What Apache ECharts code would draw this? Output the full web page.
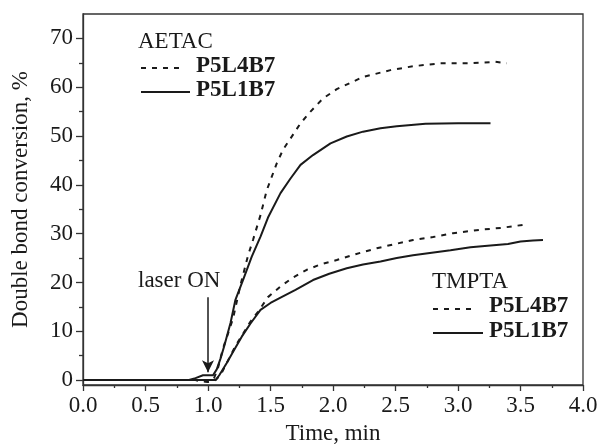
<!DOCTYPE html>
<html><head><meta charset="utf-8">
<script src="https://cdn.jsdelivr.net/npm/echarts@6/dist/echarts.min.js"></script>
<style>html,body{margin:0;padding:0;background:#fff}#c{width:600px;height:444px}</style>
</head><body><div id="c"></div>
<script>
// ---- data ----
const xTicks = [0, 0.5, 1, 1.5, 2, 2.5, 3, 3.5, 4];
const yTicks = [0, 10, 20, 30, 40, 50, 60, 70];
const yMinorTicks = [5, 15, 25, 35, 45, 55, 65];

const aetacL1B7_t = [0, 0.5, 0.84, 0.9, 0.96, 1.04, 1.07, 1.10, 1.13, 1.18, 1.22, 1.28, 1.35, 1.42, 1.48, 1.58, 1.66, 1.74, 1.84, 1.98, 2.11, 2.24, 2.38, 2.51, 2.74, 3.0, 3.26];
const aetacL1B7_v = [0, 0, 0, 0.4, 1.0, 1.0, 2.2, 4.4, 7.0, 11.7, 16.5, 20.5, 25.3, 29.4, 33.3, 38.3, 41.3, 44.1, 46.1, 48.5, 49.9, 50.9, 51.6, 52.0, 52.5, 52.6, 52.6];

const aetacL4B7_t = [0, 0.5, 0.9, 1.0, 1.05, 1.08, 1.12, 1.16, 1.2, 1.26, 1.32, 1.36, 1.42, 1.47, 1.55, 1.60, 1.66, 1.74, 1.82, 1.92, 2.03, 2.14, 2.24, 2.46, 2.64, 2.86, 3.1, 3.3, 3.39];
const aetacL4B7_v = [0, 0, 0, -0.4, 0.5, 2.5, 6.5, 9.5, 12.6, 19.5, 25.5, 28.7, 33.8, 38.9, 44.4, 47.2, 49.5, 52.6, 55.0, 57.7, 59.6, 60.9, 62.1, 63.5, 64.3, 64.9, 64.9, 65.2, 64.9];

const tmptaL1B7_t = [0, 0.5, 0.9, 1.0, 1.06, 1.09, 1.15, 1.21, 1.27, 1.34, 1.42, 1.50, 1.58, 1.70, 1.84, 1.97, 2.11, 2.24, 2.38, 2.51, 2.64, 2.79, 2.94, 3.1, 3.26, 3.4, 3.5, 3.6, 3.68];
const tmptaL1B7_v = [0, 0, 0, 0, 0, 1.0, 3.5, 6.2, 8.9, 11.6, 14.4, 15.8, 16.9, 18.5, 20.5, 21.8, 22.9, 23.7, 24.3, 25.0, 25.6, 26.1, 26.6, 27.2, 27.6, 27.9, 28.4, 28.6, 28.7];

const tmptaL4B7_t = [0, 0.5, 0.9, 1.0, 1.06, 1.1, 1.16, 1.22, 1.28, 1.34, 1.40, 1.48, 1.58, 1.68, 1.79, 1.9, 2.03, 2.18, 2.35, 2.5, 2.64, 2.8, 2.96, 3.18, 3.35, 3.52];
const tmptaL4B7_v = [0, 0, 0, -0.3, 0, 1.0, 4.0, 7.0, 9.5, 12.0, 14.0, 17.0, 19.2, 21.0, 22.6, 23.7, 24.6, 25.8, 27.0, 27.9, 28.7, 29.3, 30.1, 30.8, 31.2, 31.8];

const arrowFrom = [1.0, 17];
const arrowTo = [1.0, 1.6];

// ---- chart ----
const zip = (t, v) => t.map((x, i) => [x, v[i]]);
const FONT = 'Liberation Serif';
const INK = '#1a1a1a';
const FS = 23;
const chart = echarts.init(document.getElementById('c'), null, {renderer: 'canvas'});

function lineSeries(name, t, v, dashed, extra) {
  return Object.assign({
    name, type: 'line', data: zip(t, v), showSymbol: false, symbol: 'none',
    lineStyle: {color: INK, width: 2, type: dashed ? [5, 6] : 'solid'},
    animation: false, z: 3
  }, extra || {});
}

const option = {
  animation: false,
  grid: {left: 83, right: 17, top: 14, bottom: 59, outerBoundsMode: 'none', containLabel: false,
         show: true, borderColor: '#333', borderWidth: 1.3, backgroundColor: 'transparent'},
  xAxis: {
    type: 'value', min: 0, max: 4, interval: 0.5,
    name: 'Time, min', nameLocation: 'middle', nameGap: 37,
    nameTextStyle: {fontFamily: FONT, fontSize: FS, color: INK},
    axisLine: {show: true, onZero: false, lineStyle: {color: '#333', width: 1.3}},
    axisTick: {show: true, length: 6, lineStyle: {color: '#333', width: 1.3}},
    minorTick: {show: true, splitNumber: 2, length: 3, lineStyle: {color: '#333', width: 1.3}},
    axisLabel: {fontFamily: FONT, fontSize: FS, color: INK, margin: 9, formatter: v => v.toFixed(1)},
    splitLine: {show: false}, minorSplitLine: {show: false}
  },
  yAxis: [{
    type: 'value', min: -1, max: 75,
    name: 'Double bond conversion, %', nameLocation: 'middle', nameGap: 51, nameRotate: 90,
    nameTextStyle: {fontFamily: FONT, fontSize: FS, color: INK},
    axisLine: {show: true, onZero: false, lineStyle: {color: '#333', width: 1.3}},
    axisTick: {show: true, length: 7, customValues: yTicks, lineStyle: {color: '#333', width: 1.3}},
    axisLabel: {fontFamily: FONT, fontSize: FS, color: INK, margin: 10, customValues: yTicks},
    splitLine: {show: false}
  }, {
    type: 'value', min: -1, max: 75, position: 'left',
    axisLine: {show: false},
    axisTick: {show: true, length: 4, customValues: yMinorTicks, lineStyle: {color: '#333', width: 1.3}},
    axisLabel: {show: false},
    splitLine: {show: false}
  }],
  series: [
    lineSeries('AETAC P5L4B7', aetacL4B7_t, aetacL4B7_v, true),
    lineSeries('AETAC P5L1B7', aetacL1B7_t, aetacL1B7_v, false, {
      markLine: {
        silent: true, symbol: ['none', 'arrow'], symbolSize: [9, 12],
        label: {show: false},
        lineStyle: {color: INK, width: 1.5, type: 'solid'},
        data: [[{coord: arrowFrom}, {coord: arrowTo}]]
      }
    }),
    lineSeries('TMPTA P5L4B7', tmptaL4B7_t, tmptaL4B7_v, true),
    lineSeries('TMPTA P5L1B7', tmptaL1B7_t, tmptaL1B7_v, false)
  ],
  graphic: [
    {type: 'text', left: 138, top: 30, style: {text: 'AETAC', font: FS + 'px "Liberation Serif"', fill: INK}},
    {type: 'line', shape: {x1: 141, y1: 68, x2: 184, y2: 68}, style: {stroke: INK, lineWidth: 2, lineDash: [5, 6]}},
    {type: 'text', left: 196, top: 55, style: {text: 'P5L4B7', font: 'bold ' + FS + 'px "Liberation Serif"', fill: INK}},
    {type: 'line', shape: {x1: 141, y1: 92, x2: 190, y2: 92}, style: {stroke: INK, lineWidth: 2}},
    {type: 'text', left: 196, top: 79, style: {text: 'P5L1B7', font: 'bold ' + FS + 'px "Liberation Serif"', fill: INK}},

    {type: 'text', left: 432, top: 270, style: {text: 'TMPTA', font: FS + 'px "Liberation Serif"', fill: INK}},
    {type: 'line', shape: {x1: 433, y1: 309, x2: 477, y2: 309}, style: {stroke: INK, lineWidth: 2, lineDash: [5, 6]}},
    {type: 'text', left: 489, top: 295, style: {text: 'P5L4B7', font: 'bold ' + FS + 'px "Liberation Serif"', fill: INK}},
    {type: 'line', shape: {x1: 433, y1: 333, x2: 483, y2: 333}, style: {stroke: INK, lineWidth: 2}},
    {type: 'text', left: 489, top: 320, style: {text: 'P5L1B7', font: 'bold ' + FS + 'px "Liberation Serif"', fill: INK}},

    {type: 'text', left: 138, top: 269, style: {text: 'laser ON', font: FS + 'px "Liberation Serif"', fill: INK}}
  ]
};
chart.setOption(option);
</script></body></html>
